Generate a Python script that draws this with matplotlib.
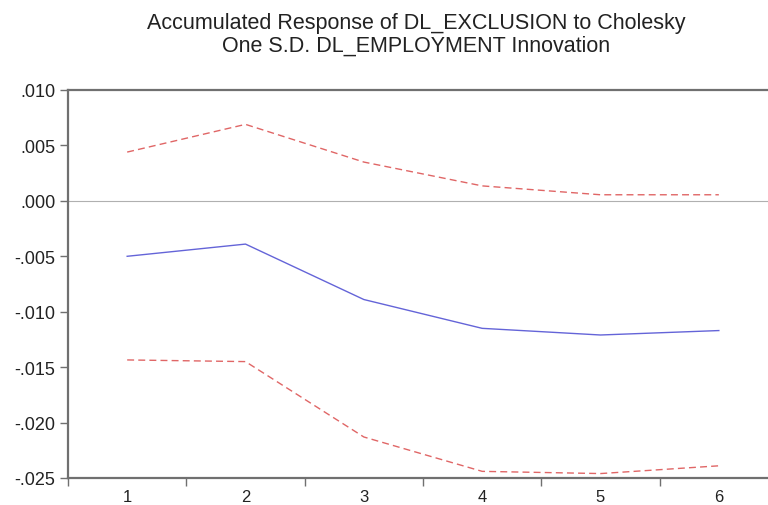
import matplotlib
matplotlib.use("Agg")
import matplotlib.pyplot as plt
from matplotlib.ticker import FuncFormatter, FixedLocator

periods = [1, 2, 3, 4, 5, 6]
response = [-0.0050, -0.0039, -0.0089, -0.0115, -0.0121, -0.0117]
upper = [0.0044, 0.0069, 0.0035, 0.00135, 0.00055, 0.00055]
lower = [-0.01435, -0.0145, -0.0213, -0.0244, -0.0246, -0.0239]
yticks = [0.010, 0.005, 0.000, -0.005, -0.010, -0.015, -0.020, -0.025]

plt.rcParams['font.family'] = ['Liberation Sans', 'DejaVu Sans']
fig = plt.figure(figsize=(7.68, 5.06), dpi=100)
ax = fig.add_axes([68/768, 27/506, 710/768, 388/506])

ax.axhline(0, color='#b0b0b0', lw=0.8, zorder=1)
ax.plot(periods, response, color='#6464d8', lw=1.0, zorder=3)
ax.plot(periods, upper, color='#e06666', lw=1.0, ls=(0, (5, 3)), zorder=3)
ax.plot(periods, lower, color='#e06666', lw=1.0, ls=(0, (5, 3)), zorder=3)

ax.set_xlim(0.5, 6.5)
ax.set_ylim(-0.025, 0.010)
ax.set_yticks(yticks)

def fmt(v, pos):
    s = f"{v:.3f}"
    s = s.replace("0.", ".", 1)
    if s == "-.000":
        s = ".000"
    return s
ax.yaxis.set_major_formatter(FuncFormatter(fmt))

ax.xaxis.set_major_locator(FixedLocator([0.5 + i for i in range(7)]))
ax.xaxis.set_minor_locator(FixedLocator(periods))
ax.xaxis.set_major_formatter(FuncFormatter(lambda v, p: ""))
ax.xaxis.set_minor_formatter(FuncFormatter(lambda v, p: f"{int(round(v))}"))
ax.tick_params(axis='x', which='minor', length=0, labelsize=12, pad=8, colors='#222222')
ax.tick_params(axis='x', which='major', length=6, width=1.0, color='#707070', direction='out')
ax.tick_params(axis='y', which='major', length=6, width=1.0, color='#707070', labelsize=13, labelcolor='#222222', pad=3)

for s in ax.spines.values():
    s.set_color('#707070')
    s.set_linewidth(1.6)
ax.spines['right'].set_visible(False)

fig.text(0.542, 0.975, "Accumulated Response of DL_EXCLUSION to Cholesky\nOne S.D. DL_EMPLOYMENT Innovation",
         ha='center', va='top', fontsize=15.5, color='#222222', linespacing=1.1)

fig.savefig("out.png", dpi=100)
